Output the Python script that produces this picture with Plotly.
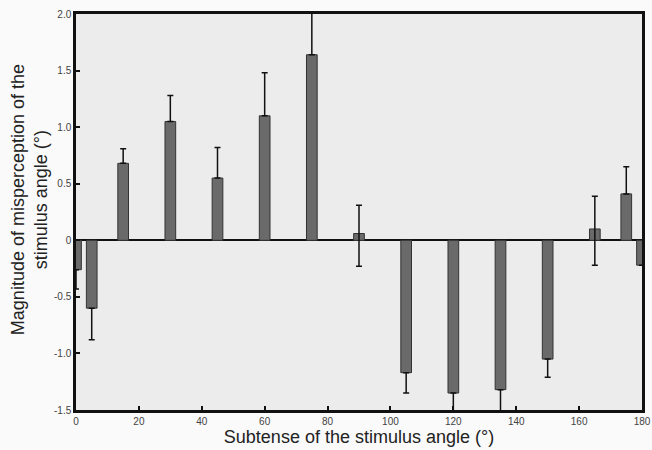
import plotly.graph_objects as go

angles = [0, 5, 15, 30, 45, 60, 75, 90, 105, 120, 135, 150, 165, 175, 180]
values = [-0.26, -0.60, 0.68, 1.05, 0.55, 1.10, 1.64, 0.06, -1.17, -1.35, -1.32, -1.05, 0.10, 0.41, -0.22]
# visible part of the error bars (outward from bar end) and the part drawn past zero for small bars
err_out = [0.17, 0.28, 0.13, 0.23, 0.27, 0.38, 0.37, 0.25, 0.18, 0.16, 0.19, 0.16, 0.29, 0.24, 0.0]
err_in = [0.0, 0.0, 0.0, 0.0, 0.0, 0.0, 0.0, 0.29, 0.0, 0.0, 0.0, 0.0, 0.32, 0.0, 0.0]

x_ticks = [0, 20, 40, 60, 80, 100, 120, 140, 160, 180]
y_ticks = [-1.5, -1.0, -0.5, 0, 0.5, 1.0, 1.5, 2.0]
y_ticklabels = ["-1.5", "-1.0", "-0.5", "0", "0.5", "1.0", "1.5", "2.0"]
x_title = "Subtense of the stimulus angle (°)"
y_title = "Magnitude of misperception of the<br>stimulus angle (°)"

plus = [eo if v >= 0 else ei for v, eo, ei in zip(values, err_out, err_in)]
minus = [ei if v >= 0 else eo for v, eo, ei in zip(values, err_out, err_in)]

fig = go.Figure()
fig.add_trace(go.Bar(
    x=angles, y=values, width=3.4,
    marker=dict(color="#6a6a6a", line=dict(color="#333333", width=1)),
    error_y=dict(type="data", symmetric=False, array=plus, arrayminus=minus,
                 color="#111111", thickness=1.5, width=3),
))

font_family = "Liberation Sans, Arial, sans-serif"
fig.update_layout(
    width=652, height=450,
    margin=dict(l=76, r=10, t=14, b=40),
    paper_bgcolor="#fafafa",
    plot_bgcolor="#ececec",
    showlegend=False,
    font=dict(family=font_family, color="#222222"),
    xaxis=dict(
        range=[0, 180], tickvals=x_ticks, ticks="inside", ticklen=4, tickwidth=1.5,
        tickcolor="#111", showline=True, linecolor="#111", linewidth=2.5, mirror=True,
        showgrid=False, zeroline=False, automargin=False,
        tickfont=dict(size=10, color="#444"),
        title=dict(text=x_title, font=dict(size=18, color="#222"), standoff=0),
    ),
    yaxis=dict(
        range=[-1.5, 2.0], tickvals=y_ticks, ticktext=y_ticklabels, ticks="inside", ticklen=4,
        tickwidth=1.5, tickcolor="#111", showline=True, linecolor="#111", linewidth=2.5,
        mirror=True, showgrid=False, zeroline=True, zerolinecolor="#111", zerolinewidth=2,
        automargin=False,
        tickfont=dict(size=10, color="#444"),
    ),
    annotations=[dict(
        text=y_title, textangle=-90, showarrow=False,
        xref="paper", yref="paper", x=-0.083, y=0.53, xanchor="center", yanchor="middle",
        font=dict(size=18, color="#222"),
    )],
)

fig.write_html("out.html", config={"displayModeBar": False},
               post_script="document.body.style.margin='0px';")
